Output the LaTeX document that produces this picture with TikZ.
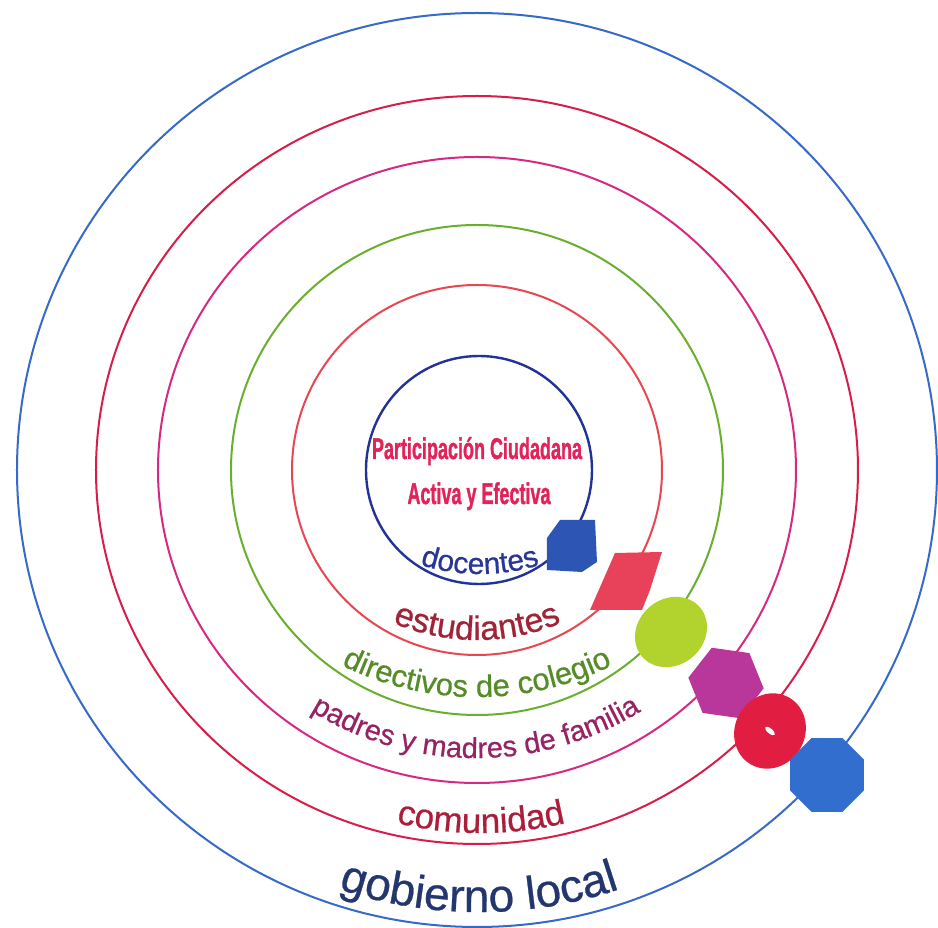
\documentclass[tikz,border=0pt]{standalone}
\usepackage{fontspec}
\usepackage{graphicx}
\setmainfont{Liberation Sans}
\newfontfamily\titlefont[BoldFeatures={FakeBold=1.6}]{Liberation Sans}
\newfontfamily\ringfont[FakeBold=0.6]{Liberation Sans}
\usetikzlibrary{decorations.text,shapes.geometric}

\definecolor{govblue}{RGB}{55,105,200}
\definecolor{comred}{RGB}{215,30,75}
\definecolor{padpink}{RGB}{215,40,130}
\definecolor{dirgreen}{RGB}{105,175,45}
\definecolor{estred}{RGB}{232,70,80}
\definecolor{docblue}{RGB}{35,50,150}
\definecolor{titlered}{RGB}{225,35,90}
\definecolor{doctext}{RGB}{40,55,150}
\definecolor{esttext}{RGB}{160,35,55}
\definecolor{dirtext}{RGB}{85,140,40}
\definecolor{padtext}{RGB}{150,35,100}
\definecolor{comtext}{RGB}{170,30,60}
\definecolor{govtext}{RGB}{35,55,110}
\definecolor{docbead}{RGB}{45,85,180}
\definecolor{estbead}{RGB}{232,65,90}
\definecolor{dirbead}{RGB}{178,210,45}
\definecolor{padbead}{RGB}{185,55,155}
\definecolor{combead}{RGB}{225,30,65}
\definecolor{govbead}{RGB}{50,110,205}

\tikzset{
  ring/.style={line width=2pt},
  bead/.style={inner sep=0pt, draw=none},
  titletext/.style={text=titlered, inner sep=0pt, font=\titlefont\bfseries\fontsize{30}{30}\selectfont},
  ringlabel/.style n args={3}{decorate, decoration={text along path, text align=center,
      text color=#1, text={|\ringfont\fontsize{#2}{#2}\selectfont|#3}}}
}

\begin{document}
\begin{tikzpicture}[x=1pt,y=1pt]
  \useasboundingbox (-477,-458) rectangle (461,470);
  \coordinate (o) at (0,0);

  % rings
  \draw[ring, govblue] (o) ellipse [x radius=460, y radius=457];
  \draw[ring, comred] (o) ellipse [x radius=381, y radius=374];
  \draw[ring, padpink] (o) ellipse [x radius=319, y radius=313];
  \draw[ring, dirgreen] (o) ellipse [x radius=246, y radius=245];
  \draw[ring, estred] (o) ellipse [x radius=185, y radius=185];
  \draw[ring, docblue, line width=2.4pt] (2,0) ellipse [x radius=113, y radius=114];

  % centre
  \node[titletext, anchor=base] (t1) at (0,11) {\scalebox{0.6}[1]{Participación Ciudadana}};
  \node[titletext, anchor=base] (t2) at (2,-34) {\scalebox{0.6}[1]{Activa y Efectiva}};

  % labels
  \path[ringlabel={doctext}{30}{docentes}]
    ([shift={(230:200)}]3,96) arc[start angle=230, end angle=310, radius=200];
  \path[ringlabel={esttext}{34}{estudiantes}]
    ([shift={(215:215)}]0,45) arc[start angle=215, end angle=325, radius=215];
  \path[ringlabel={dirtext}{31}{directivos de colegio}]
    ([shift={(205:305)}]0,78) arc[start angle=205, end angle=335, radius=305];
  \path[ringlabel={padtext}{29}{padres y madres de familia}]
    ([shift={(200:315)}]-1,27) arc[start angle=200, end angle=340, radius=315];
  \path[ringlabel={comtext}{35}{comunidad}]
    ([shift={(235:363)}]4,0) arc[start angle=235, end angle=305, radius=363];
  \path[ringlabel={govtext}{46}{gobierno local}]
    ([shift={(230:442)}]2,0) arc[start angle=230, end angle=310, radius=442];

  % beads
  \coordinate (b1) at (95,-76);
  \fill[docbead] ([shift={(-25,8)}]b1) -- ([shift={(-12,26)}]b1) -- ([shift={(23,26)}]b1)
    -- ([shift={(25,-16)}]b1) -- ([shift={(10,-26)}]b1) -- ([shift={(-25,-24)}]b1) -- cycle;
  \coordinate (b2) at (149,-112);
  \fill[estbead] ([shift={(-36,-28)}]b2) -- ([shift={(-11,29)}]b2) -- ([shift={(36,30)}]b2)
    -- ([shift={(24,-8)}]b2) -- ([shift={(16,-28)}]b2) -- cycle;
  \node[bead, fill=dirbead, ellipse, minimum width=76, minimum height=66, rotate=40] (b3) at (194,-162) {};
  \node[bead, fill=padbead, regular polygon, regular polygon sides=6, minimum size=76, rotate=-8] (b4) at (249,-213) {};
  \node[bead, fill=combead, ellipse, minimum width=77, minimum height=70, rotate=60] (b5) at (293,-261) {};
  \node[bead, fill=white, ellipse, minimum width=12, minimum height=5, rotate=-40] (hole) at (b5) {};
  \node[bead, fill=govbead, regular polygon, regular polygon sides=8, minimum size=80] (b6) at (350,-305) {};
\end{tikzpicture}
\end{document}
